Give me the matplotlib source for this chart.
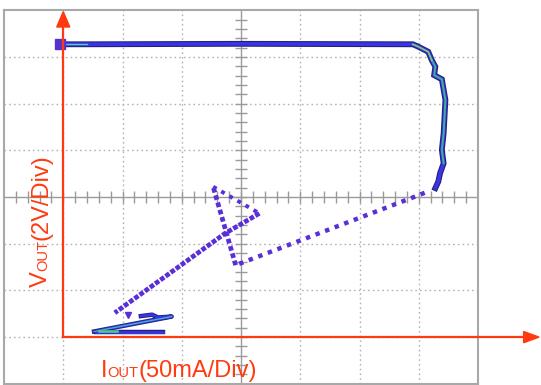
import numpy as np
import matplotlib
matplotlib.use("Agg")
import matplotlib.pyplot as plt
from matplotlib.patches import Polygon
from matplotlib.transforms import IdentityTransform

# trace, in divisions (x: 50mA/div, y: 2V/div)
top_x = [-3.06, -2.6, 0.0, 2.90, 2.99, 3.16, 3.22, 3.28, 3.26, 3.39, 3.45, 3.42, 3.39, 3.42, 3.36, 3.33, 3.28]
top_y = [3.27, 3.27, 3.28, 3.27, 3.22, 3.11, 2.93, 2.79, 2.61, 2.52, 2.08, 1.36, 1.01, 0.72, 0.51, 0.33, 0.19]

# sparse dotted fall back to the low state
fall_x = [3.10, 2.90, -0.09]
fall_y = [0.09, -0.01, -1.46]

# dense dots going up, then the little loop
up_x = [-0.09, -0.47]
up_y = [-1.46, 0.22]
loop_x = [-0.47, 0.31]
loop_y = [0.22, -0.35]

# back down to the bottom-left corner
down_x = [0.31, -0.27, -2.13]
down_y = [-0.35, -0.78, -2.48]

# zig-zag near the bottom
zig_x = [-1.69, -1.50, -1.40, -1.17, -2.48]
zig_y = [-2.55, -2.52, -2.58, -2.56, -2.88]
low_x = [-2.45, -1.31]
low_y = [-2.90, -2.90]

red = "#ff3a10"
blue = "#3a34e2"
dotc = "#5a2fd8"
edge = "#23207e"

fig = plt.figure(figsize=(5.41, 3.85), dpi=100)
ax = fig.add_axes([4 / 541, 1.2 / 385, 474 / 541, 373.6 / 385])
ax.set_xlim(-4, 4)
ax.set_ylim(-4, 4)
ax.set_xticks([])
ax.set_yticks([])
for s in ax.spines.values():
    s.set_color("#a8a8a8")
    s.set_linewidth(1.5)

# graticule
for g in range(-3, 4):
    if g == 0:
        continue
    ax.axvline(g, color="#b4b4b4", lw=1, ls=(0, (1.2, 2.2)), zorder=1)
    ax.axhline(g, color="#b4b4b4", lw=1, ls=(0, (1.2, 2.2)), zorder=1)
ax.axvline(0, color="#9a9a9a", lw=1, zorder=1)
ax.axhline(0, color="#9a9a9a", lw=1, zorder=1)
ticks = np.arange(-3.8, 3.81, 0.2)
ax.plot(ticks, np.zeros_like(ticks), ls="none", marker="|", ms=8, mew=1, color="#9a9a9a", zorder=1)
ax.plot(np.zeros_like(ticks), ticks, ls="none", marker="_", ms=8, mew=1, color="#9a9a9a", zorder=1)

# trace
ax.plot(top_x, top_y, color=edge, lw=4.2, solid_joinstyle="miter", zorder=3)
ax.plot(top_x, top_y, color=blue, lw=2.6, zorder=4)
ax.plot(top_x[6:14], top_y[6:14], color="#3fae9a", lw=1.4, zorder=5)
ax.plot(top_x[3:7], top_y[3:7], color="#7fd07a", lw=1.2, zorder=5)
ax.plot(top_x[0:2], top_y[0:2], color="#4fd0c0", lw=1.0, zorder=5)
ax.plot(top_x[0], top_y[0], marker="s", ms=7, color="#5a2fd0", zorder=6)

ax.plot(fall_x, fall_y, color=dotc, lw=3.2, ls=(0, (1.0, 1.3)), zorder=4)
ax.plot(up_x, up_y, color=dotc, lw=3.4, ls=(0, (1.0, 0.6)), zorder=4)
ax.plot(loop_x, loop_y, color=dotc, lw=2.8, ls=(0, (1.0, 1.4)), zorder=4)
ax.plot(down_x, down_y, color=dotc, lw=3.4, ls=(0, (1.0, 0.35)), zorder=4)
ax.plot(-1.90, -2.53, marker="v", ms=4, color=dotc, zorder=4)
ax.plot(zig_x, zig_y, color=edge, lw=3.2, zorder=4)
ax.plot(zig_x, zig_y, color=blue, lw=2.0, zorder=4)
ax.plot(low_x, low_y, color=edge, lw=3.2, zorder=4)
ax.plot(low_x, low_y, color=blue, lw=2.0, zorder=4)
ax.plot(zig_x[3:], zig_y[3:], color="#45b8c8", lw=0.9, zorder=5)
ax.plot([-2.40, -2.10], [-2.88, -2.88], color="#4fd08a", lw=1.8, zorder=5)

# red axes with arrows
ax.plot([-3, -3], [-3, 3.7], color=red, lw=1.6, clip_on=False, zorder=7)
ax.plot([-3, 4.8], [-3, -3], color=red, lw=1.6, clip_on=False, zorder=7)
ax.add_patch(Polygon([[-3.11, 3.64], [-2.89, 3.64], [-3, 3.97]], closed=True,
                     color=red, clip_on=False, zorder=7))
ax.add_patch(Polygon([[4.77, -2.88], [4.77, -3.12], [5.03, -3]], closed=True,
                     color=red, clip_on=False, zorder=7))

# labels with small-caps "OUT"
big, small = 17, 10.5
renderer = fig.canvas.get_renderer()


def write_label(pieces, x, y, rot):
    for s, size in pieces:
        t = fig.text(x, y, s, fontsize=size, color=red, family="Liberation Sans",
                     rotation=rot, rotation_mode="anchor", ha="left", va="baseline",
                     transform=IdentityTransform())
        bb = t.get_window_extent(renderer)
        if rot == 0:
            x = bb.x1
        else:
            y = bb.y1


write_label([("I", big), ("OUT", small), ("(50mA/Div)", big)], 101, 8, 0)
write_label([("V", big), ("OUT", small), ("(2V/Div)", big)], 47, 98, 90)

fig.savefig("out.png", dpi=100)
